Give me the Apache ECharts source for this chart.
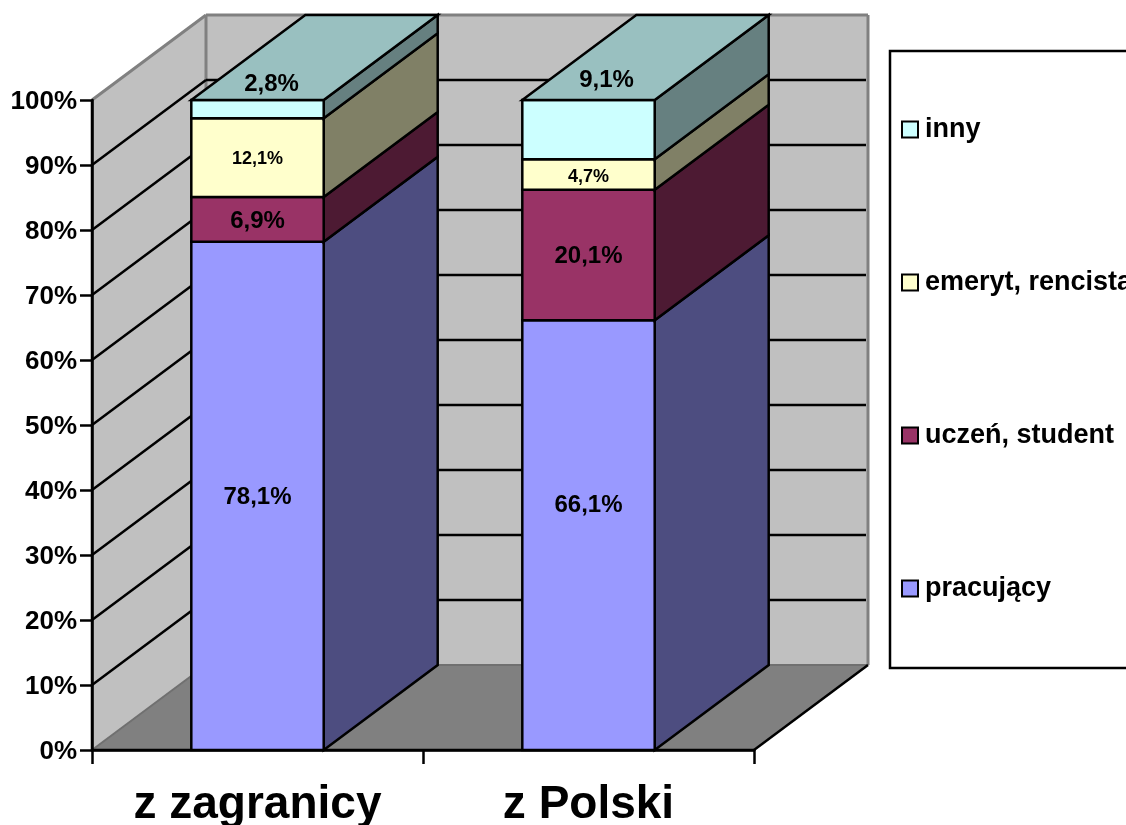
<!DOCTYPE html>
<html>
<head>
    <meta charset='utf-8'>
    <script src="https://cdn.jsdelivr.net/npm/echarts@6/dist/echarts.min.js"></script>
</head>
<body>
<style>
    html, body, #main {
        width: 100%;
        height: 100%;
        margin: 0;
        padding: 0;
        background: #fff;
    }
</style>
<div id="main"></div>
<script>

    var categories = ['z zagranicy', 'z Polski'];
    var pracujacy = [78.1, 66.1];
    var uczen = [6.9, 20.1];
    var emeryt = [12.1, 4.7];
    var inny = [2.8, 9.1];
    var yTicks = [0, 10, 20, 30, 40, 50, 60, 70, 80, 90, 100];

    var stackOrder = [pracujacy, uczen, emeryt, inny];
    var names = ['pracujący', 'uczeń, student', 'emeryt, rencista', 'inny'];
    var frontColors = ['#9999FF', '#993366', '#FFFFCC', '#CCFFFF'];
    var sideColors = ['#4D4D80', '#4D1A33', '#808066', '#668080'];
    var topColor = '#99C0C0';
    var labelSizes = [24, 24, 18, 24];
    // hand-moved labels of the original, [dx, dy] per series and column
    var labelNudge = [
        [[0, 1], [0, -30]],
        [[0, 2], [0, 1]],
        [[0, 1], [0, 3]],
        [[14, -16], [18, -20]]
    ];

    // oblique depth of the fake 3D box, in pixels
    var DX = 114, DY = -85;
    var LINE = 2.5;

    var chart = echarts.init(document.getElementById('main'));

    function poly(points, fill, stroke, width) {
        return {
            type: 'polygon',
            shape: {points: points},
            style: {fill: fill, stroke: stroke, lineWidth: width, lineJoin: 'miter'}
        };
    }

    function line(x1, y1, x2, y2, stroke, width) {
        return {
            type: 'line',
            shape: {x1: x1, y1: y1, x2: x2, y2: y2},
            style: {stroke: stroke, lineWidth: width}
        };
    }

    function renderWalls(params, api) {
        var c = params.coordSys;
        var l = c.x, r = c.x + c.width, t = c.y, b = c.y + c.height;
        var children = [
            poly([[l, t], [l + DX, t + DY], [l + DX, b + DY], [l, b]], '#C0C0C0', null, 0),
            poly([[l + DX, t + DY], [r + DX, t + DY], [r + DX, b + DY], [l + DX, b + DY]], '#C0C0C0', null, 0),
            poly([[l, b], [l + DX, b + DY], [r + DX, b + DY], [r, b]], '#808080', null, 0),
            line(l, t, l + DX, t + DY, '#808080', 3),
            line(l + DX, t + DY, r + DX, t + DY, '#808080', 3),
            line(l + DX, t + DY, l + DX, b + DY, '#808080', 3),
            line(r + DX, t + DY, r + DX, b + DY, '#808080', 3),
            line(l + DX, b + DY, r + DX, b + DY, '#707070', 2),
            line(l, b, l + DX, b + DY, '#707070', 2)
        ];
        yTicks.forEach(function (tick) {
            if (tick === 0 || tick === 100) {
                return;
            }
            var y = api.coord([0, tick])[1];
            children.push(line(l, y, l + DX, y + DY, '#000', LINE));
            children.push(line(l + DX, y + DY, r + DX - 2, y + DY, '#000', LINE));
        });
        children.push(line(r, b, r + DX, b + DY, '#000', LINE));
        children.push(line(l, t, l, b, '#000', LINE));
        children.push(line(l, b, r, b, '#000', LINE));
        return {type: 'group', children: children};
    }

    function makeRenderBar(stackIndex) {
        return function (params, api) {
            var col = api.value(0);
            var total = 0, before = 0;
            stackOrder.forEach(function (values, i) {
                total += values[col];
                if (i < stackIndex) {
                    before += values[col];
                }
            });
            var low = before / total * 100;
            var high = (before + api.value(1)) / total * 100;
            var centre = api.coord([col, low]);
            var yLow = centre[1];
            var yHigh = api.coord([col, high])[1];
            var half = api.size([1, 0])[0] * 0.4 / 2;
            var x0 = centre[0] - half, x1 = centre[0] + half;
            var isTop = stackIndex === stackOrder.length - 1;
            var nudge = labelNudge[stackIndex][col];
            var children = [
                poly([[x1, yLow], [x1 + DX, yLow + DY], [x1 + DX, yHigh + DY], [x1, yHigh]],
                    sideColors[stackIndex], '#000', LINE),
                poly([[x0, yLow], [x1, yLow], [x1, yHigh], [x0, yHigh]],
                    frontColors[stackIndex], '#000', LINE)
            ];
            if (isTop) {
                children.push(poly([[x0, yHigh], [x0 + DX, yHigh + DY], [x1 + DX, yHigh + DY], [x1, yHigh]],
                    topColor, '#000', LINE));
            }
            children.push({
                type: 'text',
                x: centre[0] + nudge[0],
                // the top series carries its label on the lid of the box
                y: (isTop ? yHigh : (yLow + yHigh) / 2) + nudge[1],
                z2: 10,
                style: {
                    text: api.value(1).toFixed(1).replace('.', ',') + '%',
                    fill: '#000',
                    align: 'center',
                    verticalAlign: 'middle',
                    fontFamily: 'Liberation Sans',
                    fontWeight: 'bold',
                    fontSize: labelSizes[stackIndex]
                }
            });
            return {type: 'group', children: children};
        };
    }

    var series = [{
        name: 'walls',
        type: 'custom',
        silent: true,
        renderItem: renderWalls,
        data: [[0, 0]],
        z: 1
    }];

    stackOrder.forEach(function (values, i) {
        series.push({
            name: names[i],
            type: 'custom',
            silent: true,
            renderItem: makeRenderBar(i),
            itemStyle: {color: frontColors[i], borderColor: '#000', borderWidth: 2.5},
            data: values.map(function (v, col) {
                return [col, v];
            }),
            z: 2 + i
        });
    });

    chart.setOption({
        animation: false,
        textStyle: {fontFamily: 'Liberation Sans'},
        grid: {left: 92, top: 100, width: 662, height: 650, outerBoundsMode: 'none'},
        legend: {
            data: names.slice().reverse(),
            orient: 'vertical',
            left: 890,
            top: 51,
            align: 'left',
            padding: [65, 200, 66, 11],
            itemGap: 126,
            itemWidth: 16,
            itemHeight: 16,
            icon: 'rect',
            selectedMode: false,
            backgroundColor: '#fff',
            borderColor: '#000',
            borderWidth: 2.5,
            textStyle: {
                fontFamily: 'Liberation Sans',
                fontWeight: 'bold',
                fontSize: 27,
                color: '#000',
                padding: [0, 0, 0, 2]
            }
        },
        xAxis: {
            type: 'category',
            data: categories,
            z: 20,
            axisLine: {lineStyle: {color: '#000', width: 2.5}},
            axisTick: {show: true, length: 14, lineStyle: {color: '#000', width: 2.5}},
            axisLabel: {
                margin: 32,
                color: '#000',
                fontFamily: 'Liberation Sans',
                fontWeight: 'bold',
                fontSize: 46
            }
        },
        yAxis: {
            type: 'value',
            min: 0,
            max: 100,
            interval: 10,
            z: 20,
            splitLine: {show: false},
            axisLine: {show: true, lineStyle: {color: '#000', width: 2.5}},
            axisTick: {show: true, length: 12, lineStyle: {color: '#000', width: 2.5}},
            axisLabel: {
                margin: 15,
                formatter: '{a|{value}%}',
                rich: {
                    a: {
                        padding: [4, 0, 0, 0],
                        color: '#000',
                        fontFamily: 'Liberation Sans',
                        fontWeight: 'bold',
                        fontSize: 26
                    }
                }
            }
        },
        series: series
    });
</script>
</body>
</html>
